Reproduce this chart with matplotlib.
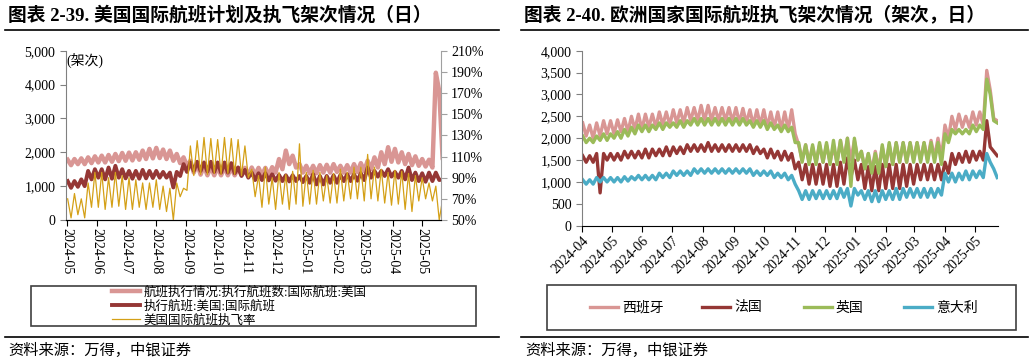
import pandas as pd
import matplotlib
matplotlib.use('Agg')
import matplotlib.pyplot as plt
import matplotlib.dates as mdates
from matplotlib.lines import Line2D
from matplotlib.patches import Rectangle
from matplotlib.ticker import FuncFormatter, MultipleLocator

plt.rcParams['font.family'] = ['Liberation Serif', 'Noto Sans CJK SC']
plt.rcParams['axes.unicode_minus'] = False

# ---- left chart: weekly highs / lows, weeks from 2024-05-01
us_start = '2024-05-01'
us_plan_hi = [1780, 1800, 1820, 1850, 1880, 1900, 1920, 1950, 1980,
              1990, 2000, 2050, 2100, 2130, 2080, 2050, 1950, 1850,
              1750, 1650, 1600, 1580, 1560, 1560, 1550, 1540, 1540,
              1550, 1540, 1540, 1560, 1800, 2050, 1900, 1650, 1600,
              1600, 1620, 1630, 1650, 1600, 1620, 1650, 1680,
              1750, 1850, 2000, 2150, 2100, 2000, 1950, 1880, 1800,
              1780, 4350, 1800]
us_plan_lo = [1620, 1650, 1650, 1680, 1700, 1700, 1720, 1740, 1750,
              1760, 1780, 1800, 1820, 1830, 1800, 1750, 1680, 1600,
              1400, 1340, 1320, 1320, 1320, 1320, 1320, 1330, 1330,
              1330, 1320, 1320, 1400, 1500, 1650, 1550, 1400, 1380,
              1380, 1400, 1400, 1420, 1400, 1400, 1420, 1450,
              1500, 1550, 1650, 1720, 1700, 1650, 1620, 1600, 1580,
              1550, 3800, 1750]
us_exec_hi = [1150, 1150, 1200, 1450, 1500, 1500, 1550, 1600, 1500,
              1450, 1450, 1480, 1450, 1450, 1420, 1400, 1420, 1650,
              1700, 1720, 1700, 1720, 1700, 1700, 1680, 1550, 1480,
              1400, 1380, 1380, 1350, 1330, 1320, 1320, 1300, 1300,
              1350, 1300, 1300, 1320, 1330, 1350, 1350, 1380,
              1550, 1450, 1450, 1500, 1420, 1450, 1550, 1400, 1380,
              1400, 1400, 1200]
us_exec_lo = [950, 980, 1000, 1200, 1250, 1200, 1220, 1250, 1230,
              1220, 1220, 1230, 1240, 1250, 1250, 960, 1300, 1420,
              1450, 1450, 1430, 1420, 1400, 1400, 1380, 1300, 1250,
              1180, 1180, 1170, 1160, 1150, 1140, 1150, 1120, 1100,
              1050, 1050, 1100, 1100, 1150, 1150, 1160, 1180,
              1250, 1280, 1300, 1280, 1250, 1200, 1180, 1150, 1130,
              1150, 1180, 1180]
us_rate_hi = [70, 75, 70, 85, 95, 95, 90, 95, 92,
              90, 88, 85, 85, 88, 82, 80, 85, 80,
              120, 125, 128, 127, 126, 128, 127, 126, 120,
              98, 92, 100, 90, 95, 93, 96, 122, 95,
              97, 95, 92, 94, 98, 95, 100, 100,
              112, 100, 98, 95, 97, 96, 94, 92, 90,
              85, 82, 70]
us_rate_lo = [52, 55, 52, 62, 62, 60, 62, 63, 60,
              60, 62, 60, 62, 60, 58, 50, 72, 78,
              92, 93, 93, 94, 93, 94, 93, 92, 90,
              72, 62, 65, 60, 65, 60, 65, 63, 65,
              65, 68, 66, 66, 68, 70, 70, 68,
              70, 68, 66, 64, 65, 60, 58, 68, 70,
              68, 50, 52]
rate_ticks = [50, 70, 90, 110, 130, 150, 170, 190, 210]

# ---- right chart: weekly highs / lows, weeks from 2024-04-01
eu_start = '2024-04-01'
es_hi = [2350, 2300, 2350, 2400, 2400, 2420, 2450, 2500, 2550,
         2550, 2550, 2600, 2600, 2650, 2650, 2700, 2700, 2750,
         2750, 2700, 2700, 2700, 2700, 2680, 2650, 2650,
         2650, 2600, 2600, 2600, 2650, 1850, 1850, 1800, 1850,
         1850, 1800, 1950, 2000, 1950, 1700, 1650, 1700, 1800,
         1850, 1900, 1900, 1900, 1900, 1900, 1950, 2000, 2300,
         2500, 2550, 2500, 2600, 2600, 3550, 2450]
es_lo = [2050, 2000, 2050, 2100, 2100, 2150, 2150, 2200, 2200,
         2250, 2250, 2300, 2300, 2350, 2350, 2400, 2400, 2400,
         2400, 2400, 2400, 2380, 2350, 2350, 2300, 2300,
         2250, 2250, 2200, 2200, 2100, 1500, 1450, 1450, 1450,
         1450, 1450, 1500, 1500, 1500, 1300, 1250, 1300, 1350,
         1400, 1450, 1450, 1500, 1500, 1500, 1550, 1550, 2000,
         2200, 2250, 2250, 2300, 2300, 3100, 2400]
fr_hi = [1600, 1600, 1650, 1650, 1650, 1650, 1700, 1700, 1700,
         1750, 1750, 1750, 1800, 1800, 1800, 1850, 1850, 1850,
         1900, 1850, 1850, 1850, 1850, 1850, 1850, 1800,
         1750, 1750, 1700, 1700, 1650, 1450, 1400, 1400, 1400,
         1400, 1400, 1450, 1550, 1500, 1400, 1350, 1350, 1400,
         1400, 1400, 1400, 1400, 1400, 1400, 1400, 1400, 1450,
         1650, 1650, 1700, 1700, 1700, 2400, 1700]
fr_lo = [1450, 1450, 750, 1500, 1500, 1500, 1550, 1550, 1550,
         1550, 1600, 1600, 1600, 1650, 1650, 1700, 1700, 1700,
         1700, 1700, 1700, 1700, 1700, 1700, 1650, 1650,
         1550, 1550, 1500, 1500, 1300, 1050, 950, 950, 950,
         900, 900, 950, 1100, 1050, 850, 800, 800, 850,
         850, 850, 900, 950, 1050, 1050, 1050, 1050, 1200,
         1400, 1450, 1450, 1500, 1500, 1800, 1600]
uk_hi = [2050, 2000, 2050, 2100, 2100, 2150, 2200, 2250, 2300,
         2300, 2300, 2350, 2350, 2350, 2400, 2400, 2450, 2450,
         2450, 2450, 2450, 2450, 2450, 2450, 2400, 2400,
         2400, 2350, 2300, 2300, 2250, 1900, 1850, 1850, 1900,
         1900, 1950, 1950, 2000, 2000, 1700, 1650, 1650, 1850,
         1900, 1900, 1900, 1900, 1900, 1900, 1900, 1900, 2100,
         2200, 2200, 2200, 2300, 2300, 3350, 2400]
uk_lo = [1900, 1900, 1950, 1950, 2000, 2000, 2050, 2100, 2150,
         2150, 2200, 2200, 2250, 2250, 2250, 2300, 2300, 2300,
         2300, 2300, 2300, 2300, 2300, 2300, 2250, 2250,
         2200, 2200, 2150, 2150, 1900, 1450, 1400, 1400, 1450,
         1400, 1400, 1450, 900, 1500, 1300, 1200, 1200, 1350,
         1400, 1450, 1450, 1450, 1450, 1450, 1450, 1400, 1900,
         2100, 2100, 2100, 2150, 2200, 3000, 2350]
it_hi = [1050, 1050, 1100, 1100, 1100, 1100, 1120, 1120, 1150,
         1150, 1150, 1200, 1200, 1250, 1250, 1250, 1300, 1300,
         1300, 1300, 1300, 1300, 1300, 1300, 1300, 1250,
         1250, 1250, 1200, 1200, 1150, 800, 800, 800, 800,
         800, 800, 850, 850, 850, 800, 800, 800, 800,
         800, 850, 850, 850, 850, 850, 850, 850, 1200,
         1200, 1200, 1250, 1250, 1250, 1650, 1300]
it_lo = [950, 950, 1000, 1000, 1000, 1000, 1020, 1050, 1050,
         1050, 1050, 1100, 1100, 1150, 1150, 1150, 1200, 1200,
         1200, 1200, 1200, 1200, 1200, 1200, 1150, 1150,
         1150, 1100, 1100, 1050, 950, 600, 600, 620, 620,
         620, 620, 650, 450, 700, 600, 550, 550, 600,
         600, 600, 650, 650, 650, 650, 650, 700, 1000,
         1000, 1050, 1050, 1100, 1100, 1450, 1100]


def weekly(start, hi, lo):
    d0 = pd.Timestamp(start)
    xs, ys = [], []
    for i, (h, l) in enumerate(zip(hi, lo)):
        xs += [d0 + pd.Timedelta(days=7 * i + 1), d0 + pd.Timedelta(days=7 * i + 4.5)]
        ys += [h, l]
    return xs, ys


PINK, MAROON, GOLD = '#D99694', '#953735', '#D4A017'
GREEN, BLUE = '#9BBB59', '#4BACC6'
W, H = 1033, 364

fig = plt.figure(figsize=(W / 100, H / 100), dpi=100)

# ---------------- left panel
ax = fig.add_axes([65.7 / W, 1 - 220 / H, 375 / W, 169.3 / H])
x, y = weekly(us_start, us_plan_hi, us_plan_lo)
l1, = ax.plot(x, y, color=PINK, lw=3.2, solid_joinstyle='round')
x, y = weekly(us_start, us_exec_hi, us_exec_lo)
l2, = ax.plot(x, y, color=MAROON, lw=2.8, solid_joinstyle='round')
ax.set_ylim(0, 5000)
ax.yaxis.set_major_locator(MultipleLocator(1000))
ax.yaxis.set_major_formatter(FuncFormatter(lambda v, p: f'{v:,.0f}'))
ax.set_xlim(pd.Timestamp('2024-04-30'), pd.Timestamp('2025-05-20'))
ax.xaxis.set_major_locator(mdates.MonthLocator())
ax.xaxis.set_major_formatter(mdates.DateFormatter('%Y-%m'))
ax.tick_params(axis='x', labelrotation=270, labelsize=10, direction='out', length=4, pad=2)
ax.tick_params(axis='y', labelsize=10, direction='out', length=4, color='#808080')
for lab in ax.get_xticklabels():
    lab.set_va('top')
    lab.set_ha('center')
ax.spines['top'].set_visible(False)
ax.spines['right'].set_visible(False)
ax.spines['left'].set_color('#808080')
ax.text(0.003, 0.99, '(架次)', transform=ax.transAxes, fontsize=10, va='top', ha='left')

ax2 = ax.twinx()
x, y = weekly(us_start, us_rate_hi, us_rate_lo)
l3, = ax2.plot(x, y, color=GOLD, lw=0.9)
ax2.set_ylim(50, 210)
ax2.set_yticks(rate_ticks)
ax2.yaxis.set_major_formatter(FuncFormatter(lambda v, p: f'{v:.0f}%'))
ax2.tick_params(axis='y', labelsize=10, direction='out', length=4, color='#A0A0A0')
ax2.spines['top'].set_visible(False)
ax2.spines['left'].set_visible(False)
ax2.spines['right'].set_color('#A0A0A0')

fig.add_artist(Rectangle((30.7 / W, 1 - 326 / H), 445.3 / W, 40.3 / H,
                         transform=fig.transFigure, fill=False, ec='#404040', lw=1.2))
fig.legend([l1, l2, l3],
           ['航班执行情况:执行航班数:国际航班:美国', '执行航班:美国:国际航班', '美国国际航班执飞率'],
           loc='upper left', bbox_to_anchor=(112 / W, 1 - 286 / H), bbox_transform=fig.transFigure,
           frameon=False, fontsize=9, handlelength=2.2, handletextpad=0.3,
           labelspacing=0.12, borderpad=0, borderaxespad=0)

# ---------------- right panel
bx = fig.add_axes([581.7 / W, 1 - 225.7 / H, 416 / W, 175 / H])
lines = []
for hi, lo, c in [(es_hi, es_lo, PINK), (fr_hi, fr_lo, MAROON), (uk_hi, uk_lo, GREEN), (it_hi, it_lo, BLUE)]:
    x, y = weekly(eu_start, hi, lo)
    ln, = bx.plot(x, y, color=c, lw=2.4, solid_joinstyle='round')
    lines.append(ln)
bx.set_ylim(0, 4000)
bx.yaxis.set_major_locator(MultipleLocator(500))
bx.yaxis.set_major_formatter(FuncFormatter(lambda v, p: f'{v:,.0f}'))
bx.set_xlim(pd.Timestamp('2024-04-01'), pd.Timestamp('2025-05-24'))
bx.xaxis.set_major_locator(mdates.MonthLocator())
bx.xaxis.set_major_formatter(mdates.DateFormatter('%Y-%m'))
bx.tick_params(axis='x', labelsize=10, direction='out', length=4, pad=2)
bx.tick_params(axis='y', labelsize=10, direction='out', length=4, color='#808080')
for lab in bx.get_xticklabels():
    lab.set_rotation(45)
    lab.set_ha('right')
    lab.set_rotation_mode('anchor')
bx.spines['top'].set_visible(False)
bx.spines['right'].set_visible(False)
bx.spines['left'].set_color('#808080')

fig.add_artist(Rectangle((546.7 / W, 1 - 330 / H), 469.3 / W, 45 / H,
                         transform=fig.transFigure, fill=False, ec='#404040', lw=1.2))
for ln, lab, px in zip(lines, ['西班牙', '法国', '英国', '意大利'], [590, 702, 804, 904]):
    fig.legend([ln], [lab], loc='center left', bbox_to_anchor=(px / W, 1 - 308 / H),
               bbox_transform=fig.transFigure, frameon=False, fontsize=10,
               handlelength=2.0, handletextpad=0.3, borderpad=0, borderaxespad=0)

# ---------------- titles, rules and sources
tfont = dict(fontsize=13.5, fontweight='bold', va='center', ha='left')
fig.text(8 / W, 1 - 15 / H, '图表 2-39. 美国国际航班计划及执飞架次情况（日）', **tfont)
fig.text(524 / W, 1 - 15 / H, '图表 2-40. 欧洲国家国际航班执飞架次情况（架次，日）', **tfont)
for x0, x1 in [(5, 499), (521, 1028)]:
    fig.add_artist(Line2D([x0 / W, x1 / W], [1 - 30 / H] * 2, color='black', lw=1.2))
    fig.add_artist(Line2D([x0 / W, x1 / W], [1 - 336.7 / H] * 2, color='black', lw=1.2))
fig.text(8 / W, 1 - 350.5 / H, '资料来源：万得，中银证券', fontsize=11, va='center', ha='left')
fig.text(525 / W, 1 - 350.5 / H, '资料来源：万得，中银证券', fontsize=11, va='center', ha='left')

fig.savefig('out.png', dpi=100)
